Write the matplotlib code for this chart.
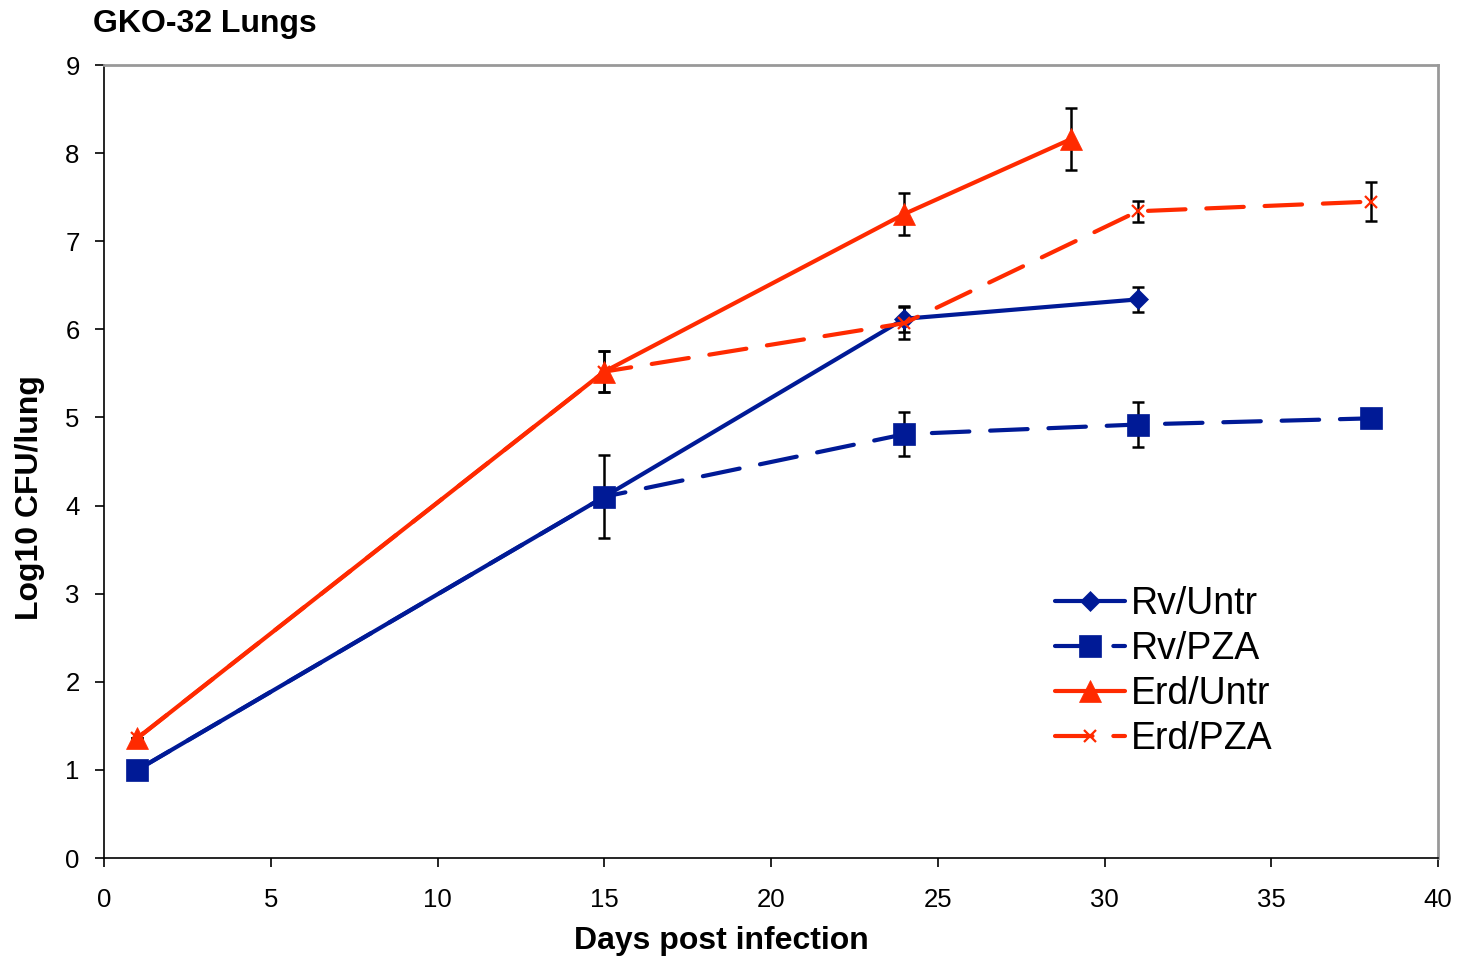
import matplotlib
matplotlib.use("Agg")
import matplotlib.pyplot as plt
from matplotlib.legend_handler import HandlerLine2D

plt.rcParams['font.family'] = ['Liberation Sans', 'DejaVu Sans']

# Data
rv_untr_x = [1, 15, 24, 31]
rv_untr_y = [1.0, 4.1, 6.12, 6.34]
rv_untr_err = [0, 0, 0.15, 0.14]

rv_pza_x = [1, 15, 24, 31, 38]
rv_pza_y = [1.0, 4.1, 4.81, 4.92, 4.99]
rv_pza_err = [0, 0.47, 0.25, 0.26, 0]

erd_untr_x = [1, 15, 24, 29]
erd_untr_y = [1.36, 5.52, 7.31, 8.16]
erd_untr_err = [0, 0.23, 0.24, 0.35]

erd_pza_x = [1, 15, 24, 31, 38]
erd_pza_y = [1.36, 5.52, 6.07, 7.34, 7.45]
erd_pza_err = [0, 0.23, 0.18, 0.12, 0.22]

labels = ["Rv/Untr", "Rv/PZA", "Erd/Untr", "Erd/PZA"]
blue = '#001A96'
red = '#FF2A00'

fig = plt.figure(figsize=(14.65, 9.56), dpi=100)
ax = fig.add_axes([0.071, 0.1025, 0.9106, 0.8295])

dash = (0, (9, 5))
lw = 3.0
series = [
    (rv_untr_x, rv_untr_y, rv_untr_err, blue, '-', 'D', 10),
    (rv_pza_x, rv_pza_y, rv_pza_err, blue, dash, 's', 15.5),
    (erd_untr_x, erd_untr_y, erd_untr_err, red, '-', '^', 15.5),
    (erd_pza_x, erd_pza_y, erd_pza_err, red, dash, 'x', 9),
]
handles = []
for (x, y, e, c, ls, m, ms), lab in zip(series, labels):
    ax.errorbar(x, y, yerr=e, fmt='none', ecolor='black', elinewidth=1.8,
                capsize=4.3, capthick=1.8, zorder=2)
    h, = ax.plot(x, y, color=c, linestyle=ls, linewidth=lw, marker=m,
                 markersize=ms, markeredgecolor=c, markerfacecolor=c,
                 markeredgewidth=1.6 if m == 'x' else 0.5,
                 dash_capstyle='round', solid_capstyle='round', label=lab, zorder=3)
    handles.append(h)

ax.set_xlim(0, 40)
ax.set_ylim(0, 9)
ax.set_xticks(range(0, 41, 5))
ax.set_yticks(range(0, 10))
ax.tick_params(axis='both', direction='out', length=6.5, width=1.2, labelsize=18.5,
               color='black')
ax.tick_params(axis='x', pad=15)
ax.tick_params(axis='y', pad=11)
for s in ['left', 'bottom']:
    ax.spines[s].set_color('black')
    ax.spines[s].set_linewidth(1.2)
for s in ['top', 'right']:
    ax.spines[s].set_color('#999999')
    ax.spines[s].set_linewidth(2)

ax.set_xlabel("Days post infection", fontsize=23, fontweight='bold')
ax.xaxis.set_label_coords(0.4625, -0.086)
ax.set_ylabel("Log10 CFU/lung", fontsize=23, fontweight='bold')
ax.yaxis.set_label_coords(-0.044, 0.455)

fig.text(0.0635, 0.975, "GKO-32 Lungs", fontsize=23, fontweight='bold',
         ha='left', va='center')

leg = ax.legend(handles=handles, loc='upper left', bbox_to_anchor=(0.713, 0.3425),
                frameon=False, fontsize=27, handlelength=1.87, handletextpad=0.16,
                labelspacing=0.24, borderaxespad=0, borderpad=0,
                handler_map={h: HandlerLine2D(numpoints=1) for h in handles})

fig.savefig("out.png", dpi=100)
